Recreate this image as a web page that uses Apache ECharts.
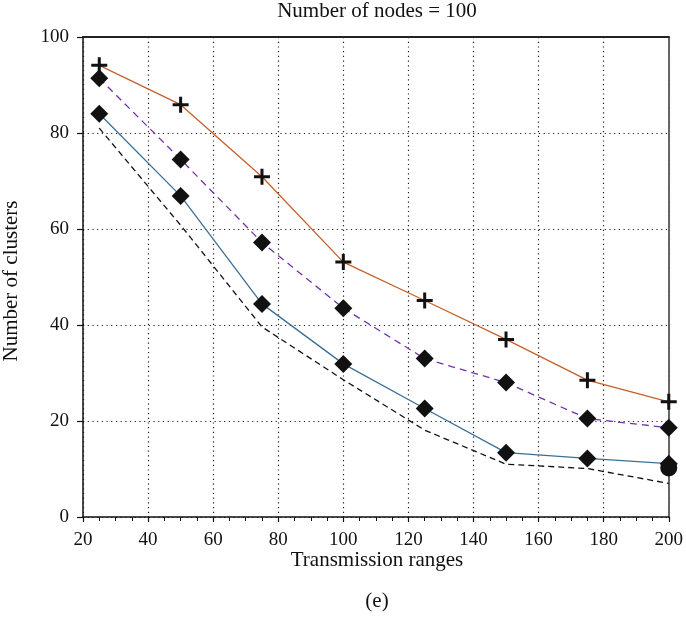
<!DOCTYPE html>
<html>
<head>
<meta charset="utf-8">
<script src="https://cdn.jsdelivr.net/npm/echarts@6/dist/echarts.min.js"></script>
<style>
  html, body { margin: 0; padding: 0; background: #fff; }
  #chart { width: 686px; height: 618px; }
</style>
</head>
<body>
<div id="chart"></div>
<script>
// Transmission range values on the x axis
const ranges = [25, 50, 75, 100, 125, 150, 175, 200];

// Number of clusters per scheme
const seriesPlus = [94.1, 85.9, 70.9, 53.1, 45.1, 37.0, 28.5, 24.0];
const seriesPurple = [91.4, 74.5, 57.2, 43.5, 33.0, 28.0, 20.5, 18.6];
const seriesBlue = [84.0, 66.9, 44.4, 31.9, 22.6, 13.4, 12.2, 11.1];
const seriesBlack = [81.0, 60.8, 39.6, 28.6, 18.1, 11.0, 10.1, 7.0];
const endPoint = [[200, 10.2]];

const titleText = 'Number of nodes = 100';
const xName = 'Transmission ranges';
const yName = 'Number of clusters';
const caption = '(e)';

const serif = '"Liberation Serif", "DejaVu Serif", serif';
const plusPath = 'path://M6.5,0H9.5V6.5H16V9.5H9.5V16H6.5V9.5H0V6.5H6.5Z';

const pairs = arr => arr.map((v, i) => [ranges[i], v]);

const chart = echarts.init(document.getElementById('chart'), null, { renderer: 'canvas' });

const textBase = { fontFamily: serif, fontSize: 21, fontWeight: 'normal', color: '#111' };

chart.setOption({
  animation: false,
  backgroundColor: '#fff',
  textStyle: { fontFamily: serif },
  title: [
    { text: titleText, left: 377, top: 1, padding: 0, textAlign: 'center', textStyle: textBase },
    { text: xName, left: 377, top: 550, padding: 0, textAlign: 'center', textStyle: textBase },
    { text: caption, left: 377, top: 591, padding: 0, textAlign: 'center', textStyle: textBase }
  ],
  graphic: [
    {
      type: 'text', x: 11, y: 281, rotation: Math.PI / 2,
      style: {
        text: yName, fontFamily: serif, fontSize: 21, fill: '#111',
        textAlign: 'center', textVerticalAlign: 'middle'
      },
      originX: 0, originY: 0
    }
  ],
  grid: { left: 83, right: 14, top: 37, bottom: 101, containLabel: false },
  xAxis: [
    {
      type: 'value', min: 20, max: 200, interval: 20,
      axisLine: { lineStyle: { color: '#111', width: 1.5 } },
      axisTick: { inside: false, length: 5, lineStyle: { color: '#111', width: 1.2 } },
      minorTick: { show: true, splitNumber: 4, length: 4, lineStyle: { color: '#111', width: 1 } },
      axisLabel: { fontFamily: serif, fontSize: 19, color: '#111', margin: 14 },
      splitLine: { show: true, lineStyle: { color: '#222', type: [1.2, 3.5], width: 1.2 } }
    },
    {
      type: 'value', position: 'top', min: 20, max: 200, interval: 20,
      axisLine: { show: true, onZero: false, lineStyle: { color: '#222', width: 2 } },
      axisTick: { show: false }, axisLabel: { show: false }, splitLine: { show: false }
    }
  ],
  yAxis: [
    {
      type: 'value', min: 0, max: 100, interval: 20,
      axisLine: { show: true, lineStyle: { color: '#111', width: 1.5 } },
      axisTick: { show: true, inside: false, length: 6, lineStyle: { color: '#111', width: 1.2 } },
      axisLabel: { fontFamily: serif, fontSize: 19, color: '#111', margin: 14 },
      splitLine: { show: true, lineStyle: { color: '#222', type: [1.2, 3.5], width: 1.2 } }
    },
    {
      type: 'value', position: 'right', min: 0, max: 100, interval: 20,
      axisLine: { show: true, onZero: false, lineStyle: { color: '#666', width: 2 } },
      axisTick: { show: false }, axisLabel: { show: false }, splitLine: { show: false }
    }
  ],
  series: [
    {
      type: 'line', data: pairs(seriesBlack), symbol: 'none',
      lineStyle: { color: '#111', width: 1.3, type: [6, 4] }, z: 2
    },
    {
      type: 'line', data: pairs(seriesBlue), symbol: 'diamond', symbolSize: 18,
      itemStyle: { color: '#111' },
      lineStyle: { color: '#3b6f96', width: 1.3 }, z: 3
    },
    {
      type: 'line', data: pairs(seriesPurple), symbol: 'diamond', symbolSize: 18,
      itemStyle: { color: '#111' },
      lineStyle: { color: '#7434a6', width: 1.3, type: [7, 5] }, z: 3
    },
    {
      type: 'line', data: pairs(seriesPlus), symbol: plusPath, symbolSize: 16,
      itemStyle: { color: '#111' },
      lineStyle: { color: '#c4612c', width: 1.3 }, z: 3
    },
    {
      type: 'scatter', data: endPoint, symbol: 'circle', symbolSize: 17,
      itemStyle: { color: '#111', opacity: 1 }, z: 4
    }
  ]
});
</script>
</body>
</html>
